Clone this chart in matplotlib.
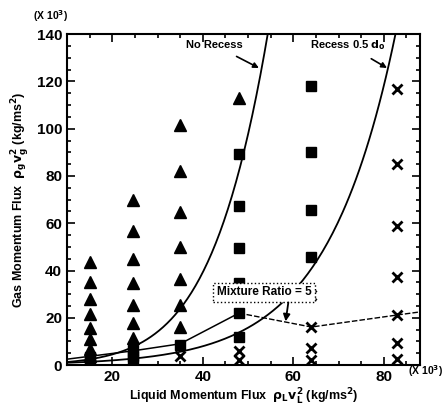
import numpy as np
import matplotlib
matplotlib.use("Agg")
import matplotlib.pyplot as plt
from matplotlib.ticker import MultipleLocator

plt.rcParams["font.family"] = ["Liberation Sans", "DejaVu Sans"]
plt.rcParams["font.weight"] = "bold"
plt.rcParams["mathtext.default"] = "bf"

# triangle points (x10^3)
tri_x = [15]*9 + [24.5]*7 + [35]*7 + [48]
tri_y = [43.6, 35.2, 28, 21.6, 15.7, 11, 7, 4, 2,
         69.9, 56.8, 44.9, 34.7, 25.4, 17.8, 11.4,
         101.7, 82.2, 64.8, 50, 36.4, 25.4, 16.1,
         113]

# square points
sq_x = [15, 15, 24.5, 24.5, 24.5, 35] + [48]*6 + [64]*4
sq_y = [3.5, 1.5, 6.5, 4, 2, 8.5,
        89.3, 67.4, 49.6, 34.7, 22, 11.9,
        118, 90, 65.6, 45.7]

# cross points
x_x = [35, 48, 48] + [64]*4 + [83]*7
x_y = [4, 6, 2, 29.6, 16.1, 7.2, 2,
       117, 85, 58.8, 37.3, 21.2, 9.3, 2.5]

# curves
norec_x = [10.6, 17.3, 26.2, 35, 38, 44, 48, 52.7]
norec_y = [1.3, 3.4, 10.6, 23.3, 30.5, 48.7, 89, 129]
rec_x = [10.7, 24.6, 35.7, 39.5, 49, 54.4, 58.9, 65, 68.4, 75.8, 80.8]
rec_y = [1.0, 3, 5.5, 7.6, 14.8, 21, 29.6, 45.7, 54, 86.8, 126]

# mixture ratio = 5 line
mr_x = [10, 24.5, 35, 48, 64, 83, 88]
mr_y = [2.5, 6, 9, 22, 16.1, 21.2, 22.5]

fig = plt.figure(figsize=(4.44, 4.07), dpi=100)
ax = fig.add_axes([0.151, 0.103, 0.795, 0.813])

ax.plot(tri_x, tri_y, "^", color="black", ms=8, zorder=3)
ax.plot(sq_x, sq_y, "s", color="black", ms=6.5, zorder=3)
ax.plot(x_x, x_y, "x", color="black", ms=6.5, mew=2, zorder=3)

# smooth fitted curves (quadratic in log space)
for cx, cy, xend in [(norec_x, norec_y, 54.5), (rec_x, rec_y, 83)]:
    c = np.polyfit(cx, np.log(cy), 2)
    xs = np.linspace(10, xend, 200)
    ax.plot(xs, np.exp(np.polyval(c, xs)), color="black", lw=1.3)

# mixture ratio line: solid up to 48, dashed after
ax.plot(mr_x[:4], mr_y[:4], color="black", lw=1.1)
ax.plot(mr_x[3:], mr_y[3:], color="black", lw=1.0, ls=(0, (4, 1.5)))

ax.annotate("No Recess", xy=(52.4, 125.7), xytext=(42.5, 135.5),
            ha="center", va="center", fontsize=8, fontweight="bold",
            arrowprops=dict(arrowstyle="-|>", color="black", lw=1.2,
                            shrinkA=6, shrinkB=0))
ax.annotate("Recess 0.5 $d_o$", xy=(80.7, 125.7), xytext=(72, 135.5),
            ha="center", va="center", fontsize=8, fontweight="bold",
            arrowprops=dict(arrowstyle="-|>", color="black", lw=1.2,
                            shrinkA=6, shrinkB=0))
ax.text(53.5, 30.8, "Mixture Ratio = 5", ha="center", va="center",
        fontsize=8.5, fontweight="bold", zorder=4,
        bbox=dict(boxstyle="square,pad=0.3", fc="white", ec="black",
                  ls=":", lw=1))
ax.annotate("", xy=(58.3, 18.5), xytext=(58.9, 26.5),
            arrowprops=dict(arrowstyle="-|>", color="black", lw=1.3,
                            shrinkA=0, shrinkB=0), zorder=4)

ax.set_xlim(10, 88)
ax.set_ylim(0, 140)
ax.xaxis.set_major_locator(MultipleLocator(20))
ax.xaxis.set_minor_locator(MultipleLocator(5))
ax.yaxis.set_major_locator(MultipleLocator(20))
ax.yaxis.set_minor_locator(MultipleLocator(5))
ax.tick_params(which="both", direction="in", top=True, right=True,
               labelsize=11, width=1.2)
ax.tick_params(which="major", length=6)
ax.tick_params(which="minor", length=3)
for s in ax.spines.values():
    s.set_linewidth(1.5)

ax.set_xlabel("Liquid Momentum Flux  $\\rho_L v_L^2$ (kg/ms$^2$)",
              fontsize=9, fontweight="bold", labelpad=2)
ax.set_ylabel("Gas Momentum Flux  $\\rho_g v_g^2$ (kg/ms$^2$)",
              fontsize=9, fontweight="bold", labelpad=4)
fig.text(0.113, 0.952, "(X 10$^3$)", fontsize=7.5, fontweight="bold", ha="center")
fig.text(0.998, 0.078, "(X 10$^3$)", fontsize=7.5, fontweight="bold", ha="right")

fig.savefig("out.png", dpi=100)
